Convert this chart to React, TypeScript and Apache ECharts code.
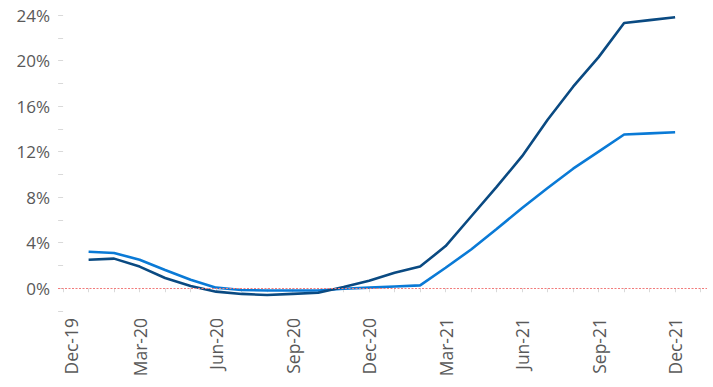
import React, { useEffect, useRef } from "react";
import * as echarts from "echarts";

// Month index: 0 = Dec-19 ... 24 = Dec-21
const tickLabels = ["Dec-19", "Mar-20", "Jun-20", "Sep-20", "Dec-20", "Mar-21", "Jun-21", "Sep-21", "Dec-21"];
const labelMonths = [0, 3, 6, 9, 12, 15, 18, 21, 24];
const tickMonths = [0, 1, 2, 3, 4, 5, 6, 7, 8, 9, 10, 11, 12, 13, 14, 15, 16, 17, 18, 19, 20, 21, 22, 23, 24, 25];
const dataMonths = [1, 2, 3, 4, 5, 6, 7, 8, 9, 10, 11, 12, 13, 14, 15, 16, 17, 18, 19, 20, 21, 22, 23, 24];

const darkSeries = [2.5, 2.6, 1.9, 0.9, 0.2, -0.3, -0.5, -0.6, -0.5, -0.4, 0.1, 0.65, 1.35, 1.9, 3.7, 6.3, 8.9, 11.6, 14.8, 17.7, 20.3, 23.3, 23.55, 23.8];
const lightSeries = [3.2, 3.1, 2.5, 1.6, 0.75, 0.05, -0.15, -0.2, -0.2, -0.2, -0.05, 0.05, 0.15, 0.25, 1.8, 3.4, 5.2, 7.05, 8.8, 10.5, 12.0, 13.5, 13.6, 13.7];

const yLabelValues = [0, 4, 8, 12, 16, 20, 24];
const yTickValues = [-2, 0, 2, 4, 6, 8, 10, 12, 14, 16, 18, 20, 22, 24];

const FONT = "'Open Sans', sans-serif";

export default function App() {
  const ref = useRef<HTMLDivElement>(null);
  useEffect(() => {
    if (!ref.current) return;
    document.body.style.margin = "0";
    const chart = echarts.init(ref.current, null, { renderer: "svg" });
    const pair = (vals: number[]) => vals.map((v, i) => [dataMonths[i], v]);
    chart.setOption({
      animation: false,
      grid: { left: 58, right: 6, top: 15, bottom: 76, containLabel: false },
      xAxis: {
        type: "value",
        min: -0.2,
        max: 25.25,
        splitLine: { show: false },
        axisLine: { show: false },
        axisTick: {
          show: true,
          customValues: tickMonths,
          length: 4,
          lineStyle: { color: "#d9d9d9", width: 1 },
        },
        axisLabel: {
          customValues: labelMonths,
          rotate: 90,
          margin: 7,
          color: "#595959",
          fontFamily: FONT,
          fontSize: 17.5,
          formatter: (v: number) => {
            const i = labelMonths.indexOf(Math.round(v));
            if (i < 0) return "";
            return i === 0 ? `{first|${tickLabels[i]}}` : tickLabels[i];
          },
          rich: {
            first: {
              color: "#595959",
              fontFamily: FONT,
              fontSize: 17.5,
              padding: [16, 0, 0, 0],
            },
          },
        },
      },
      yAxis: {
        type: "value",
        min: -2,
        max: 24,
        splitLine: { show: false },
        axisLine: { show: false },
        axisTick: {
          show: true,
          customValues: yTickValues,
          length: 5,
          lineStyle: { color: "#d9d9d9", width: 1 },
        },
        axisLabel: {
          customValues: yLabelValues,
          margin: 8,
          color: "#595959",
          fontFamily: FONT,
          fontSize: 17,
          formatter: (v: number) => `${v}%`,
        },
      },
      series: [
        {
          type: "line",
          data: [],
          z: 1,
          silent: true,
          markLine: {
            silent: true,
            symbol: "none",
            label: { show: false },
            lineStyle: { color: "#f27b7b", type: [2, 1.5], width: 1.2 },
            data: [{ yAxis: 0 }],
          },
        },
        {
          name: "Light",
          type: "line",
          z: 3,
          data: pair(lightSeries),
          showSymbol: false,
          lineStyle: { color: "#0a7ad6", width: 2.6 },
          itemStyle: { color: "#0a7ad6" },
        },
        {
          name: "Dark",
          type: "line",
          z: 4,
          data: pair(darkSeries),
          showSymbol: false,
          lineStyle: { color: "#0a4a82", width: 2.6 },
          itemStyle: { color: "#0a4a82" },
        },
      ],
    });
    return () => chart.dispose();
  }, []);
  return <div ref={ref} style={{ width: 713, height: 387 }} />;
}
